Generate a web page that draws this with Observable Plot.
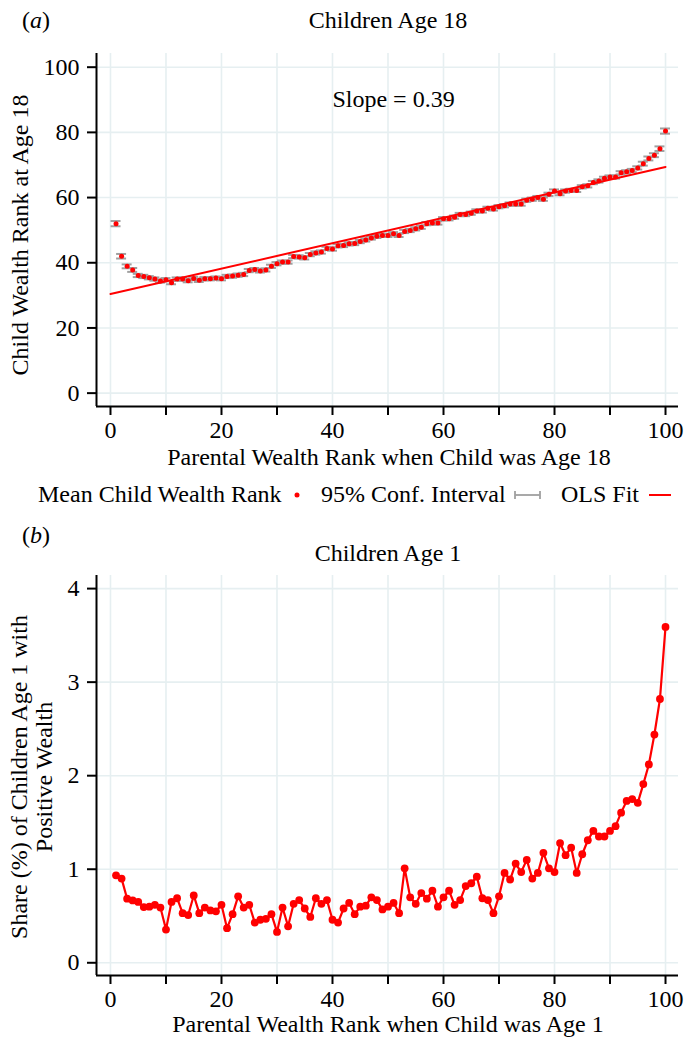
<!DOCTYPE html>
<html><head><meta charset="utf-8">
<script src="https://cdn.jsdelivr.net/npm/d3@7"></script>
<script src="https://cdn.jsdelivr.net/npm/@observablehq/plot@0.6"></script>
<style>
body{margin:0;background:#fff;}
#wrap{position:relative;width:687px;height:1037px;overflow:hidden;background:#fff;}
#wrap svg, #wrap svg text, #wrap svg tspan{font-family:"Liberation Serif","Times New Roman",serif !important;}
#wrap svg text{font-variant-numeric:normal !important;}
.panel{position:absolute;left:0;}
#overlay{position:absolute;left:0;top:0;}
</style></head><body><div id="wrap"></div>
<script>
// ---------- data ----------
const ranks = [1,2,3,4,5,6,7,8,9,10,11,12,13,14,15,16,17,18,19,20,21,22,23,24,25,26,27,28,29,30,31,32,33,34,35,36,37,38,39,40,41,42,43,44,45,46,47,48,49,50,51,52,53,54,55,56,57,58,59,60,61,62,63,64,65,66,67,68,69,70,71,72,73,74,75,76,77,78,79,80,81,82,83,84,85,86,87,88,89,90,91,92,93,94,95,96,97,98,99,100];
const childRank18 = [52.0,42.0,38.9,37.8,36.1,35.8,35.4,35.0,34.4,34.8,33.9,35.0,35.0,34.5,35.2,34.6,35.1,35.1,35.3,35.1,35.8,35.9,36.2,36.4,37.6,37.9,37.5,37.8,38.9,39.7,40.2,40.2,41.9,41.8,41.5,42.5,43.0,43.3,44.4,44.2,45.2,45.3,45.8,45.9,46.5,47.0,47.6,48.1,48.4,48.4,48.9,48.4,49.6,49.9,50.4,50.9,52.0,52.2,52.2,53.5,53.5,54.0,54.8,54.8,55.2,55.9,55.9,56.7,56.5,57.2,57.5,58.0,58.0,58.0,59.2,59.5,60.0,59.5,61.0,62.0,61.2,62.0,62.2,62.2,63.3,63.6,64.6,65.1,65.9,66.3,66.3,67.6,67.9,68.3,69.1,70.4,72.0,73.0,75.0,80.4];
const ciHalf18 = [0.8,0.7,0.6,0.6,0.5,0.5,0.5,0.5,0.5,0.5,0.5,0.5,0.5,0.5,0.5,0.5,0.5,0.5,0.5,0.5,0.5,0.5,0.5,0.5,0.5,0.5,0.5,0.5,0.5,0.5,0.5,0.5,0.5,0.5,0.5,0.5,0.5,0.5,0.5,0.5,0.5,0.5,0.5,0.5,0.5,0.5,0.5,0.5,0.5,0.5,0.5,0.5,0.5,0.5,0.5,0.5,0.5,0.5,0.5,0.5,0.5,0.5,0.5,0.5,0.5,0.5,0.5,0.5,0.5,0.5,0.5,0.5,0.5,0.5,0.5,0.5,0.5,0.5,0.5,0.5,0.5,0.5,0.5,0.5,0.5,0.5,0.5,0.5,0.5,0.5,0.5,0.5,0.5,0.5,0.5,0.6,0.6,0.6,0.7,0.8];
const fitX = [0, 100];
const fitY = [30.4, 69.4];
const slopeLabel = {text: "Slope = 0.39", x: 51, y: 90};
const sharePos1 = [0.935,0.90,0.685,0.667,0.65,0.595,0.60,0.62,0.59,0.355,0.65,0.69,0.53,0.51,0.72,0.53,0.59,0.56,0.55,0.62,0.37,0.52,0.71,0.59,0.62,0.43,0.46,0.47,0.52,0.33,0.59,0.39,0.63,0.67,0.58,0.49,0.69,0.63,0.67,0.46,0.43,0.58,0.64,0.52,0.60,0.61,0.70,0.67,0.57,0.60,0.64,0.53,1.01,0.70,0.63,0.745,0.685,0.77,0.60,0.70,0.77,0.62,0.67,0.82,0.85,0.92,0.69,0.67,0.53,0.71,0.96,0.89,1.06,0.97,1.10,0.90,0.96,1.175,1.01,0.97,1.28,1.15,1.23,0.96,1.16,1.31,1.41,1.35,1.35,1.41,1.46,1.605,1.73,1.75,1.71,1.91,2.12,2.44,2.82,3.59];
const xTicks = [0,10,20,30,40,50,60,70,80,90,100];
const xTickLabels = [0,20,40,60,80,100];
const yTicksA = [0,20,40,60,80,100];
const yTicksB = [0,1,2,3,4];

// ---------- style ----------
const FONT = "'Liberation Serif','Times New Roman',serif";
const FS = 24;
const RED = "#ff0000";
const GRID = "#e6eff1";
const CAP = "#a0a0a0";
const xDom = [-2.52, 102.34];
const yDomA = [-4.1, 104.2];
const yDomB = [-0.136, 4.14];

const rowsA = ranks.map((x, i) => ({x, y: childRank18[i], ci: ciHalf18[i]}));
const rowsB = ranks.map((x, i) => ({x, y: sharePos1[i]}));
const fit = fitX.map((x, i) => ({x, y: fitY[i]}));

const svgStyle = {fontFamily: FONT, fontSize: FS + "px", color: "black", background: "transparent", overflow: "visible"};
const tickFmt = d => xTickLabels.includes(d) ? String(d) : "";
const intFmt = d => String(d);

const plotA = Plot.plot({
  width: 687, height: 470,
  marginTop: 53, marginBottom: 64, marginLeft: 96, marginRight: 9,
  style: svgStyle,
  x: {domain: xDom, label: null},
  y: {domain: yDomA, label: null},
  marks: [
    Plot.gridX(xTicks, {stroke: GRID, strokeOpacity: 1, strokeWidth: 1.6}),
    Plot.gridY(yTicksA, {stroke: GRID, strokeOpacity: 1, strokeWidth: 1.6}),
    Plot.ruleX(rowsA, {x: "x", y1: d => d.y - d.ci, y2: d => d.y + d.ci, stroke: CAP, strokeWidth: 1.4}),
    Plot.ruleY(rowsA, {x1: d => d.x - 0.9, x2: d => d.x + 0.9, y: d => d.y + d.ci, stroke: CAP, strokeWidth: 2}),
    Plot.ruleY(rowsA, {x1: d => d.x - 0.9, x2: d => d.x + 0.9, y: d => d.y - d.ci, stroke: CAP, strokeWidth: 2}),
    Plot.line(fit, {x: "x", y: "y", stroke: RED, strokeWidth: 2}),
    Plot.dot(rowsA, {x: "x", y: "y", r: 2.5, fill: RED, stroke: "none"}),
    Plot.text([slopeLabel], {x: "x", y: "y", text: "text", fontSize: FS, fontFamily: FONT, fill: "black"}),
    Plot.axisX({ticks: xTicks, tickSize: 9, tickPadding: 5, tickFormat: tickFmt, strokeWidth: 2, fontSize: FS, fontFamily: FONT, label: null}),
    Plot.axisY({ticks: yTicksA, tickSize: 9, tickPadding: 8, tickFormat: intFmt, strokeWidth: 2, fontSize: FS, fontFamily: FONT, label: null}),
    Plot.ruleX([xDom[0]], {stroke: "black", strokeWidth: 2}),
    Plot.ruleY([yDomA[0]], {stroke: "black", strokeWidth: 2})
  ]
});

const plotB = Plot.plot({
  width: 687, height: 517,
  marginTop: 55, marginBottom: 62, marginLeft: 96, marginRight: 9,
  style: svgStyle,
  x: {domain: xDom, label: null},
  y: {domain: yDomB, label: null},
  marks: [
    Plot.gridX(xTicks, {stroke: GRID, strokeOpacity: 1, strokeWidth: 1.6}),
    Plot.gridY(yTicksB, {stroke: GRID, strokeOpacity: 1, strokeWidth: 1.6}),
    Plot.line(rowsB, {x: "x", y: "y", stroke: RED, strokeWidth: 2.2}),
    Plot.dot(rowsB, {x: "x", y: "y", r: 3.9, fill: RED, stroke: "none"}),
    Plot.axisX({ticks: xTicks, tickSize: 9, tickPadding: 5, tickFormat: tickFmt, strokeWidth: 2, fontSize: FS, fontFamily: FONT, label: null}),
    Plot.axisY({ticks: yTicksB, tickSize: 9, tickPadding: 8, tickFormat: intFmt, strokeWidth: 2, fontSize: FS, fontFamily: FONT, label: null}),
    Plot.ruleX([xDom[0]], {stroke: "black", strokeWidth: 2}),
    Plot.ruleY([yDomB[0]], {stroke: "black", strokeWidth: 2})
  ]
});

const wrap = document.getElementById("wrap");
const dA = document.createElement("div"); dA.className = "panel"; dA.style.top = "0px"; dA.appendChild(plotA); wrap.appendChild(dA);
const dB = document.createElement("div"); dB.className = "panel"; dB.style.top = "520px"; dB.appendChild(plotB); wrap.appendChild(dB);

// ---------- overlay texts & legend ----------
const ov = d3.select(wrap).append("svg").attr("id", "overlay").attr("width", 687).attr("height", 1037)
  .style("font-family", FONT).style("font-size", FS + "px").attr("fill", "black");

function panelTag(x, y, letter) {
  const t = ov.append("text").attr("x", x).attr("y", y);
  t.append("tspan").text("(");
  t.append("tspan").attr("font-style", "italic").text(letter);
  t.append("tspan").text(")");
}
panelTag(22, 28, "a");
panelTag(22, 543, "b");
ov.append("text").attr("x", 388).attr("y", 28).attr("text-anchor", "middle").text("Children Age 18");
ov.append("text").attr("x", 388).attr("y", 561).attr("text-anchor", "middle").text("Children Age 1");
ov.append("text").attr("x", 389).attr("y", 465).attr("text-anchor", "middle").text("Parental Wealth Rank when Child was Age 18");
ov.append("text").attr("x", 388).attr("y", 1032).attr("text-anchor", "middle").text("Parental Wealth Rank when Child was Age 1");
ov.append("text").attr("transform", "translate(28,235) rotate(-90)").attr("text-anchor", "middle").text("Child Wealth Rank at Age 18");
ov.append("text").attr("transform", "translate(27,777) rotate(-90)").attr("text-anchor", "middle").text("Share (%) of Children Age 1 with");
ov.append("text").attr("transform", "translate(52,777) rotate(-90)").attr("text-anchor", "middle").text("Positive Wealth");

// legend
const ly = 502, lc = 495;
ov.append("text").attr("x", 38).attr("y", ly).text("Mean Child Wealth Rank");
ov.append("circle").attr("cx", 297).attr("cy", lc).attr("r", 2.5).attr("fill", RED);
ov.append("text").attr("x", 321).attr("y", ly).text("95% Conf. Interval");
ov.append("line").attr("x1", 515).attr("x2", 540).attr("y1", lc).attr("y2", lc).attr("stroke", CAP).attr("stroke-width", 1.8);
ov.append("line").attr("x1", 515).attr("x2", 515).attr("y1", lc - 4).attr("y2", lc + 4).attr("stroke", CAP).attr("stroke-width", 1.8);
ov.append("line").attr("x1", 540).attr("x2", 540).attr("y1", lc - 4).attr("y2", lc + 4).attr("stroke", CAP).attr("stroke-width", 1.8);
ov.append("text").attr("x", 561).attr("y", ly).text("OLS Fit");
ov.append("line").attr("x1", 649).attr("x2", 671).attr("y1", lc).attr("y2", lc).attr("stroke", RED).attr("stroke-width", 2);
</script></body></html>
